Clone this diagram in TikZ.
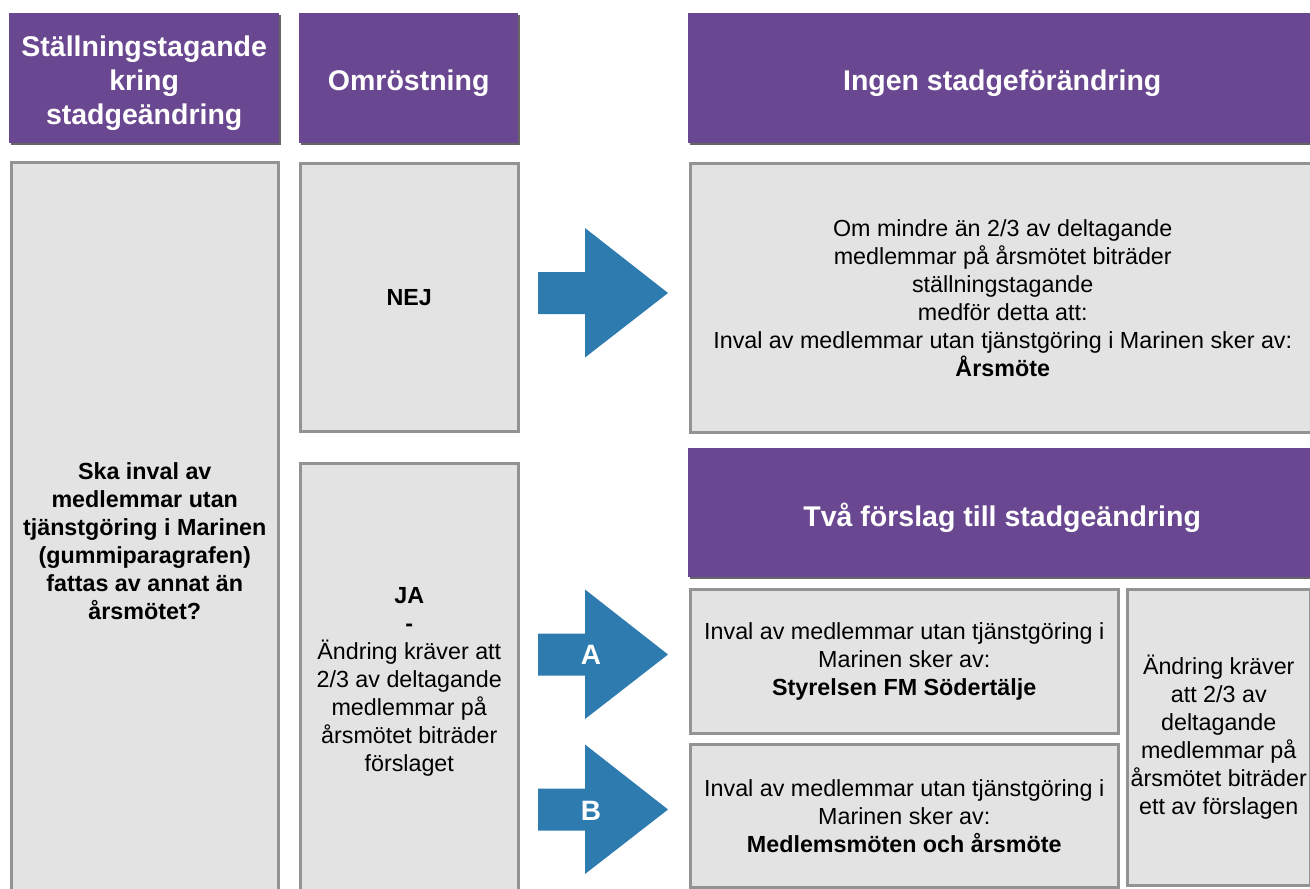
\documentclass[tikz,border=0pt]{standalone}
\usepackage{fontspec}
\setmainfont{Liberation Sans}
\usetikzlibrary{shadows}
\definecolor{hdr}{HTML}{6A4791}
\definecolor{arr}{HTML}{2E7BB0}
\definecolor{boxfill}{HTML}{E3E3E3}
\definecolor{boxline}{HTML}{939393}
\begin{document}
\begin{tikzpicture}[x=1pt,y=-1pt,
  hdrbox/.style={fill=hdr, anchor=north west, inner sep=0pt,
    drop shadow={shadow xshift=2pt,shadow yshift=-2pt,fill=black!60,opacity=1}},
  hdrtext/.style={text=white, font=\fontsize{28.5}{34}\selectfont\bfseries,
    align=center, inner sep=0pt, yshift=-5pt},
  graybox/.style={fill=boxfill, draw=boxline, line width=2.5pt, align=center,
    anchor=north west, inner sep=0pt, font=\fontsize{23.3}{28}\selectfont},
  arrlabel/.style={text=white, font=\fontsize{28}{34}\selectfont\bfseries, inner sep=0pt}]
\fill[white] (0,0) rectangle (1310,889);
\clip (0,0) rectangle (1310,889);
% headers
\node[hdrbox, minimum width=270pt, minimum height=130pt] (h1) at (9,13) {};
\node[hdrbox, minimum width=219pt, minimum height=130pt] (h2) at (299,13) {};
\node[hdrbox, minimum width=628pt, minimum height=130pt] (h3) at (688,13) {};
\node[hdrbox, minimum width=628pt, minimum height=129pt] (h4) at (688,448) {};
\node[hdrtext] (h1t) at (h1.center) {Ställningstagande\\kring\\stadgeändring};
\node[hdrtext] (h2t) at (h2.center) {Omröstning};
\node[hdrtext] (h3t) at (h3.center) {Ingen stadgeförändring};
\node[hdrtext] (h4t) at (h4.center) {Två förslag till stadgeändring};
% gray boxes
\node[graybox, minimum width=267pt, minimum height=758pt] (q) at (10,161)
  {\bfseries Ska inval av\\\bfseries medlemmar utan\\\bfseries tjänstgöring i Marinen\\\bfseries (gummiparagrafen)\\\bfseries fattas av annat än\\\bfseries årsmötet?};
\node[graybox, minimum width=218pt, minimum height=268pt] (nej) at (299,162) {\bfseries NEJ};
\node[graybox, minimum width=218pt, minimum height=438pt] (ja) at (299,462)
  {\bfseries JA\\\bfseries -\\Ändring kräver att\\2/3 av deltagande\\medlemmar på\\årsmötet biträder\\förslaget};
\node[graybox, minimum width=625pt, minimum height=269pt] (om) at (689,162)
  {Om mindre än 2/3 av deltagande\\medlemmar på årsmötet biträder\\ställningstagande\\medför detta att:\\Inval av medlemmar utan tjänstgöring i Marinen sker av:\\\bfseries Årsmöte};
\node[graybox, minimum width=428pt, minimum height=144pt] (pa) at (689,588)
  {Inval av medlemmar utan tjänstgöring i\\Marinen sker av:\\\bfseries Styrelsen FM Södertälje};
\node[graybox, minimum width=428pt, minimum height=143pt] (pb) at (689,743)
  {Inval av medlemmar utan tjänstgöring i\\Marinen sker av:\\\bfseries Medlemsmöten och årsmöte};
\node[graybox, minimum width=183pt, minimum height=296pt] (req) at (1126,588)
  {Ändring kräver\\att 2/3 av\\deltagande\\medlemmar på\\årsmötet biträder\\ett av förslagen};
% block arrows
\foreach \c/\n in {293/a0, 654.5/aA, 809.5/aB}{
  \coordinate (\n) at (538,\c);
  \fill[arr] (\n) ++(0,-21) -- ++(47,0) -- ++(0,-44) -- ++(83,65) -- ++(-83,64.5)
     -- ++(0,-43.5) -- ++(-47,0) -- cycle;
}
\node[arrlabel] (la) at (591,655) {A};
\node[arrlabel] (lb) at (591,811) {B};
\end{tikzpicture}
\end{document}
